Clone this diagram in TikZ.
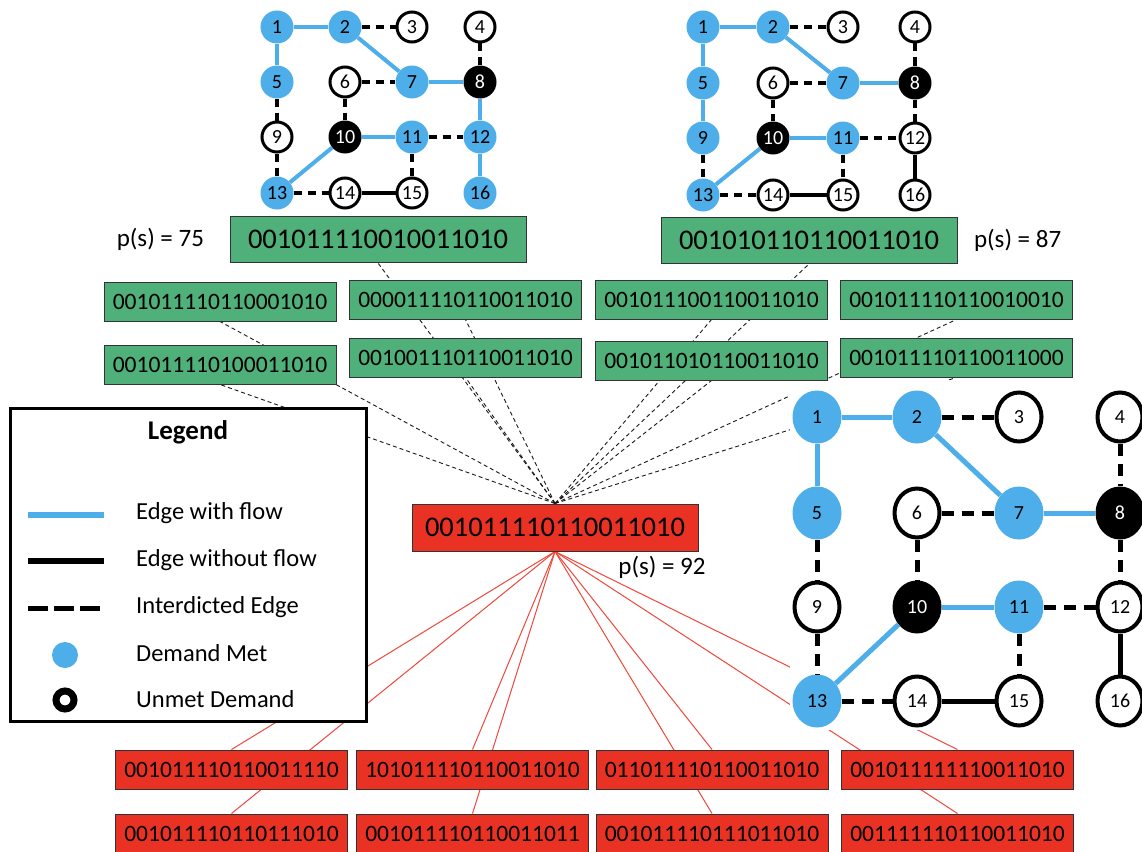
\documentclass[tikz,border=0pt]{standalone}
\usepackage{fontspec}
\setmainfont{Carlito}
\usepackage{xcolor}
\usepackage{tikz}
\usetikzlibrary{positioning,shapes.geometric,backgrounds}

\definecolor{nodeblue}{RGB}{77,174,233}
\definecolor{boxgreen}{RGB}{79,176,121}
\definecolor{boxred}{RGB}{233,50,35}
\definecolor{linkred}{RGB}{238,72,60}

\begin{document}
\begin{tikzpicture}[
    x=1pt, y=-1pt,
    node distance=10pt,
    met/.style={circle,fill=nodeblue,minimum size=33pt,inner sep=0pt,font=\fontsize{20}{21}\selectfont},
    unmet/.style={circle,draw,line width=3pt,fill=white,minimum size=30pt,inner sep=0pt,font=\fontsize{20}{21}\selectfont},
    hub/.style={circle,fill=black,text=white,minimum size=33pt,inner sep=0pt,font=\fontsize{20}{21}\selectfont},
    bmet/.style={ellipse,fill=nodeblue,minimum width=49pt,minimum height=53pt,inner sep=0pt,font=\fontsize{20}{21}\selectfont},
    bunmet/.style={ellipse,draw,line width=4pt,fill=white,minimum width=45pt,minimum height=49pt,inner sep=0pt,font=\fontsize{20}{21}\selectfont},
    bhub/.style={ellipse,fill=black,text=white,minimum width=49pt,minimum height=53pt,inner sep=0pt,font=\fontsize{20}{21}\selectfont},
    flow/.style={nodeblue,line width=4pt},
    noflow/.style={black,line width=4pt},
    cut/.style={black,line width=4pt,dash pattern=on 8pt off 6pt},
    bflow/.style={nodeblue,line width=5pt},
    bnoflow/.style={black,line width=5pt},
    bcut/.style={black,line width=5pt,dash pattern=on 12pt off 8pt},
    gbox/.style={draw=black!80,line width=1pt,fill=boxgreen,minimum width=232pt,minimum height=39pt,inner sep=0pt,font=\fontsize{23.5}{25}\selectfont},
    gbig/.style={gbox,minimum width=296pt,minimum height=46pt,font=\fontsize{28.5}{30}\selectfont},
    rbox/.style={gbox,fill=boxred},
    rbig/.style={gbig,fill=boxred},
    link/.style={black!90,line width=0.9pt,dash pattern=on 4pt off 3pt},
    rlink/.style={linkred,line width=1pt},
    lbl/.style={font=\fontsize{25}{27}\selectfont},
    keytext/.style={anchor=west,inner sep=0pt,font=\fontsize{24.5}{26}\selectfont},
]
\useasboundingbox (0,0) rectangle (1142,851);

% top-left network, p(s) = 75
\node[met]   (a1)  at (277,27)  {1};
\node[met]   (a2)  at (345,27)  {2};
\node[unmet] (a3)  at (412,27)  {3};
\node[unmet] (a4)  at (480,27)  {4};
\node[met]   (a5)  at (277,82)  {5};
\node[unmet] (a6)  at (345,82)  {6};
\node[met]   (a7)  at (412,82)  {7};
\node[hub]   (a8)  at (480,82)  {8};
\node[unmet] (a9)  at (277,137) {9};
\node[hub]   (a10) at (345,137) {10};
\node[met]   (a11) at (412,137) {11};
\node[met]   (a12) at (480,137) {12};
\node[met]   (a13) at (277,193) {13};
\node[unmet] (a14) at (345,193) {14};
\node[unmet] (a15) at (412,193) {15};
\node[met]   (a16) at (480,193) {16};

\draw[flow] (a1) -- (a2);
\draw[cut] (a2) -- (a3);
\draw[flow] (a2) -- (a7);
\draw[flow] (a1) -- (a5);
\draw[cut] (a5) -- (a9);
\draw[cut] (a9) -- (a13);
\draw[cut] (a6) -- (a7);
\draw[flow] (a7) -- (a8);
\draw[cut] (a4) -- (a8);
\draw[flow] (a8) -- (a12);
\draw[cut] (a6) -- (a10);
\draw[flow] (a10) -- (a11);
\draw[cut] (a11) -- (a12);
\draw[flow] (a10) -- (a13);
\draw[cut] (a11) -- (a15);
\draw[cut] (a13) -- (a14);
\draw[noflow] (a14) -- (a15);
\draw[flow] (a12) -- (a16);

% top-right network, p(s) = 87
\node[met]   (b1)  at (703,27)  {1};
\node[met]   (b2)  at (773,27)  {2};
\node[unmet] (b3)  at (843,27)  {3};
\node[unmet] (b4)  at (915,27)  {4};
\node[met]   (b5)  at (703,83)  {5};
\node[unmet] (b6)  at (773,83)  {6};
\node[met]   (b7)  at (843,83)  {7};
\node[hub]   (b8)  at (915,83)  {8};
\node[met]   (b9)  at (703,138) {9};
\node[hub]   (b10) at (773,138) {10};
\node[met]   (b11) at (843,138) {11};
\node[unmet] (b12) at (915,138) {12};
\node[met]   (b13) at (703,195) {13};
\node[unmet] (b14) at (773,195) {14};
\node[unmet] (b15) at (843,195) {15};
\node[unmet] (b16) at (915,195) {16};

\draw[flow] (b1) -- (b2);
\draw[cut] (b2) -- (b3);
\draw[flow] (b2) -- (b7);
\draw[flow] (b1) -- (b5);
\draw[flow] (b5) -- (b9);
\draw[cut] (b9) -- (b13);
\draw[cut] (b6) -- (b7);
\draw[flow] (b7) -- (b8);
\draw[cut] (b4) -- (b8);
\draw[cut] (b8) -- (b12);
\draw[cut] (b6) -- (b10);
\draw[flow] (b10) -- (b11);
\draw[cut] (b11) -- (b12);
\draw[flow] (b10) -- (b13);
\draw[cut] (b11) -- (b15);
\draw[cut] (b13) -- (b14);
\draw[noflow] (b14) -- (b15);
\draw[noflow] (b12) -- (b16);

% big network of the incumbent, p(s) = 92
\fill[white] (790,380) rectangle (1142,730);
\node[bmet]   (c1)  at (817,417)  {1};
\node[bmet]   (c2)  at (917,417)  {2};
\node[bunmet] (c3)  at (1019,417) {3};
\node[bunmet] (c4)  at (1120,417) {4};
\node[bmet]   (c5)  at (817,513)  {5};
\node[bunmet] (c6)  at (917,513)  {6};
\node[bmet]   (c7)  at (1019,513) {7};
\node[bhub]   (c8)  at (1120,513) {8};
\node[bunmet] (c9)  at (817,607)  {9};
\node[bhub]   (c10) at (917,607)  {10};
\node[bmet]   (c11) at (1019,607) {11};
\node[bunmet] (c12) at (1120,607) {12};
\node[bmet]   (c13) at (817,701)  {13};
\node[bunmet] (c14) at (917,701)  {14};
\node[bunmet] (c15) at (1019,701) {15};
\node[bunmet] (c16) at (1120,701) {16};

\draw[bflow] (c1) -- (c2);
\draw[bcut] (c2) -- (c3);
\draw[bflow] (c2) -- (c7);
\draw[bflow] (c1) -- (c5);
\draw[bcut] (c5) -- (c9);
\draw[bcut] (c9) -- (c13);
\draw[bcut] (c6) -- (c7);
\draw[bflow] (c7) -- (c8);
\draw[bcut] (c4) -- (c8);
\draw[bcut] (c8) -- (c12);
\draw[bcut] (c6) -- (c10);
\draw[bflow] (c10) -- (c11);
\draw[bcut] (c11) -- (c12);
\draw[bflow] (c10) -- (c13);
\draw[bcut] (c11) -- (c15);
\draw[bcut] (c13) -- (c14);
\draw[bnoflow] (c14) -- (c15);
\draw[bnoflow] (c12) -- (c16);

% green neighbours
\node[gbig] (gA) at (378,239.5) {001011110010011010};
\node[gbig] (gB) at (809,240.5) {001010110110011010};
\node[lbl,left=22pt of gA]  (psA) {p(s) = 75};
\node[lbl,right=13pt of gB] (psB) {p(s) = 87};

\node[gbox] (g1) at (220,301.5)   {001011110110001010};
\node[gbox] (g3) at (465.5,299.5) {000011110110011010};
\node[gbox] (g5) at (711.5,299.5) {001011100110011010};
\node[gbox] (g7) at (956.5,299.5) {001011110110010010};
\node[gbox,below=23pt of g1] (g2) {001011110100011010};
\node[gbox,below=18pt of g3] (g4) {001001110110011010};
\node[gbox,below=21pt of g5] (g6) {001011010110011010};
\node[gbox,below=18pt of g7] (g8) {001011110110011000};

% incumbent
\node[rbig,minimum width=286pt,minimum height=47pt] (root) at (555,527.5) {001011110110011010};
\node[lbl] (psR) at (662,567) {p(s) = 92};

% red neighbours
\node[rbox] (r1) at (231.5,769.5) {001011110110011110};
\node[rbox] (r2) at (472.5,769.5) {101011110110011010};
\node[rbox] (r3) at (712,769.5)   {011011110110011010};
\node[rbox] (r4) at (957.5,769.5) {001011111110011010};
\node[rbox,below=24pt of r1] (r5) {001011110110111010};
\node[rbox,below=24pt of r2] (r6) {001011110110011011};
\node[rbox,below=24pt of r3] (r7) {001011110111011010};
\node[rbox,below=24pt of r4] (r8) {001111110110011010};

% legend
\node[draw,line width=3pt,fill=white,minimum width=356pt,minimum height=313pt,inner sep=0pt] (legend) at (188.5,565) {};
\node[font=\bfseries\fontsize{27}{29}\selectfont] (ltitle) at (188,432) {Legend};
\coordinate (kf1) at (28,515);
\coordinate (kf2) at (104,515);
\coordinate (kn1) at (28,561);
\coordinate (kn2) at (104,561);
\coordinate (kc1) at (28,608);
\coordinate (kc2) at (104,608);
\draw[nodeblue,line width=6pt] (kf1) -- (kf2);
\draw[black,line width=6pt] (kn1) -- (kn2);
\draw[black,line width=5pt,dash pattern=on 20pt off 6pt] (kc1) -- (kc2);
\node[circle,fill=nodeblue,minimum size=26pt,inner sep=0pt] (kmet) at (65,655) {};
\node[circle,draw,line width=7pt,fill=white,minimum size=18pt,inner sep=0pt] (kunmet) at (65,700) {};
\node[keytext] (t1) at (136,513) {Edge with flow};
\node[keytext] (t2) at (136,560) {Edge without flow};
\node[keytext] (t3) at (136,607) {Interdicted Edge};
\node[keytext] (t4) at (136,653) {Demand Met};
\node[keytext] (t5) at (136,699) {Unmet Demand};

% fan-out lines, behind everything
\begin{scope}[on background layer]
\fill[white] (0,0) rectangle (1142,851);
\draw[link] (root.north) -- (gA.south);
\draw[link] (root.north) -- (gB.south);
\draw[link] (root.north) -- (g1.south);
\draw[link] (root.north) -- (g2.south);
\draw[link] (root.north) -- (g3.south);
\draw[link] (root.north) -- (g4.south);
\draw[link] (root.north) -- (g5.south);
\draw[link] (root.north) -- (g6.south);
\draw[link] (root.north) -- (g7.south);
\draw[link] (root.north) -- (g8.south);
\draw[rlink] (root.south) -- (r1.north);
\draw[rlink] (root.south) -- (r2.north);
\draw[rlink] (root.south) -- (r3.north);
\draw[rlink] (root.south) -- (r4.north);
\draw[rlink] (root.south) -- (r5.north);
\draw[rlink] (root.south) -- (r6.north);
\draw[rlink] (root.south) -- (r7.north);
\draw[rlink] (root.south) -- (r8.north);
\end{scope}
\end{tikzpicture}
\end{document}
